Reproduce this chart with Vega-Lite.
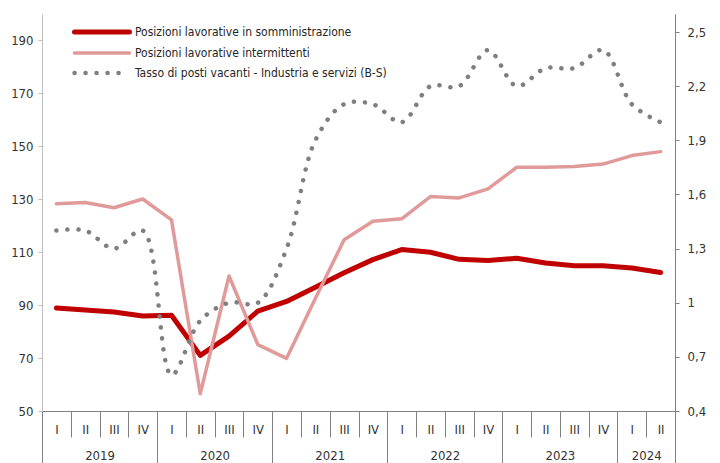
{
  "$schema": "https://vega.github.io/schema/vega-lite/v6.json",
  "width": 633,
  "height": 397,
  "autosize": "none",
  "padding": {"left": 42, "top": 14, "right": 45, "bottom": 52},
  "background": "white",
  "config": {
    "view": {"stroke": null},
    "axis": {"grid": false, "labelFont": "'Liberation Sans Narrow', 'Arial Narrow', 'DejaVu Sans Condensed', 'Liberation Sans', sans-serif", "labelFontSize": 13, "labelColor": "#333333", "labelOverlap": false, "labelFlush": false, "title": null}
  },
  "data": {
    "values": [
      {"i": 0, "anno": 2019, "trim": "I", "somm": 88.9, "interm": 128.3, "vac": 1.4},
      {"i": 1, "anno": 2019, "trim": "II", "somm": 88.2, "interm": 128.8, "vac": 1.4},
      {"i": 2, "anno": 2019, "trim": "III", "somm": 87.4, "interm": 126.8, "vac": 1.3},
      {"i": 3, "anno": 2019, "trim": "IV", "somm": 85.9, "interm": 130.1, "vac": 1.4},
      {"i": 4, "anno": 2020, "trim": "I", "somm": 86.2, "interm": 122.2, "vac": 0.6},
      {"i": 5, "anno": 2020, "trim": "II", "somm": 71.0, "interm": 56.5, "vac": 0.9},
      {"i": 6, "anno": 2020, "trim": "III", "somm": 78.3, "interm": 101.0, "vac": 1.0},
      {"i": 7, "anno": 2020, "trim": "IV", "somm": 87.7, "interm": 75.1, "vac": 1.0},
      {"i": 8, "anno": 2021, "trim": "I", "somm": 91.4, "interm": 69.9, "vac": 1.3},
      {"i": 9, "anno": 2021, "trim": "II", "somm": 96.8, "interm": 92.5, "vac": 1.9},
      {"i": 10, "anno": 2021, "trim": "III", "somm": 102.2, "interm": 114.7, "vac": 2.1},
      {"i": 11, "anno": 2021, "trim": "IV", "somm": 107.2, "interm": 121.7, "vac": 2.1},
      {"i": 12, "anno": 2022, "trim": "I", "somm": 111.0, "interm": 122.6, "vac": 2.0},
      {"i": 13, "anno": 2022, "trim": "II", "somm": 110.0, "interm": 131.0, "vac": 2.2},
      {"i": 14, "anno": 2022, "trim": "III", "somm": 107.3, "interm": 130.5, "vac": 2.2},
      {"i": 15, "anno": 2022, "trim": "IV", "somm": 106.9, "interm": 133.9, "vac": 2.4},
      {"i": 16, "anno": 2023, "trim": "I", "somm": 107.7, "interm": 142.1, "vac": 2.2},
      {"i": 17, "anno": 2023, "trim": "II", "somm": 105.9, "interm": 142.1, "vac": 2.3},
      {"i": 18, "anno": 2023, "trim": "III", "somm": 104.9, "interm": 142.4, "vac": 2.3},
      {"i": 19, "anno": 2023, "trim": "IV", "somm": 104.9, "interm": 143.3, "vac": 2.4},
      {"i": 20, "anno": 2024, "trim": "I", "somm": 104.0, "interm": 146.5, "vac": 2.1},
      {"i": 21, "anno": 2024, "trim": "II", "somm": 102.3, "interm": 148.0, "vac": 2.0}
    ]
  },
  "layer": [
    {
      "transform": [{"fold": ["somm", "interm"], "as": ["serie", "valore"]}],
      "mark": {"type": "line", "strokeCap": "round", "strokeJoin": "round"},
      "encoding": {
        "x": {
          "field": "i", "type": "quantitative",
          "scale": {"domain": [-0.5, 21.5], "nice": false, "zero": false},
          "axis": {
            "orient": "bottom",
            "values": [0,1,2,3,4,5,6,7,8,9,10,11,12,13,14,15,16,17,18,19,20,21],
            "ticks": false,
            "domainColor": "#808080",
            "labelExpr": "['I','II','III','IV'][datum.value % 4]",
            "labelBaseline": "middle",
            "labelPadding": 18
          }
        },
        "y": {
          "field": "valore", "type": "quantitative",
          "scale": {"domain": [50, 200], "nice": false, "zero": false},
          "axis": {
            "orient": "left",
            "values": [50, 70, 90, 110, 130, 150, 170, 190],
            "tickSize": 4, "labelPadding": 5,
            "domainColor": "#BFBFBF", "tickColor": "#BFBFBF"
          }
        },
        "color": {
          "field": "serie", "type": "nominal",
          "scale": {"domain": ["somm", "interm", "vac"], "range": ["#C00000", "#E09A9A", "#7F7F7F"]},
          "legend": {
            "orient": "none", "legendX": 54, "legendY": 12, "padding": 0, "title": null,
            "symbolType": "M-4,0H4", "symbolSize": 189, "rowPadding": 4, "labelOffset": 27,
            "labelFont": "'Liberation Sans Narrow', 'Arial Narrow', 'DejaVu Sans Condensed', 'Liberation Sans', sans-serif", "labelFontSize": 12, "labelColor": "#262626",
            "labelLimit": 400,
            "labelExpr": "datum.label == 'somm' ? 'Posizioni lavorative in somministrazione' : datum.label == 'interm' ? 'Posizioni lavorative intermittenti' : 'Tasso di posti vacanti - Industria e servizi (B-S)'",
            "encode": {
              "symbols": {
                "update": {
                  "strokeWidth": {"signal": "datum.value == 'somm' ? 5 : datum.value == 'interm' ? 3.5 : 4.5"},
                  "strokeDash": {"signal": "datum.value == 'vac' ? [0.1, 10.9] : [1, 0]"},
                  "strokeCap": {"value": "round"}
                }
              }
            }
          }
        },
        "strokeWidth": {"condition": {"test": "datum.serie == 'somm'", "value": 5}, "value": 3.5}
      }
    },
    {
      "transform": [{"fold": ["vac"], "as": ["serie", "valore"]}],
      "mark": {"type": "line", "interpolate": "catmull-rom", "strokeCap": "round", "strokeWidth": 4.5, "strokeDash": [0.1, 10.9]},
      "encoding": {
        "x": {
          "field": "i", "type": "quantitative",
          "axis": {
            "orient": "bottom",
            "values": [-0.5,0.5,1.5,2.5,3.5,4.5,5.5,6.5,7.5,8.5,9.5,10.5,11.5,12.5,13.5,14.5,15.5,16.5,17.5,18.5,19.5,20.5,21.5],
            "labels": false, "domain": false, "tickSize": 26, "tickColor": "#808080"
          }
        },
        "y": {
          "field": "valore", "type": "quantitative",
          "scale": {"domain": [0.4, 2.6], "nice": false, "zero": false},
          "axis": {
            "orient": "right",
            "values": [0.4, 0.7, 1, 1.3, 1.6, 1.9, 2.2, 2.5],
            "labelExpr": "replace(toString(datum.value), '.', ',')",
            "tickSize": 4, "labelPadding": 8,
            "domainColor": "#808080", "tickColor": "#808080"
          }
        },
        "color": {"field": "serie", "type": "nominal"}
      }
    },
    {
      "mark": {"type": "point", "opacity": 0},
      "encoding": {
        "x": {
          "field": "i", "type": "quantitative",
          "axis": {
            "orient": "bottom",
            "values": [-0.5, 3.5, 7.5, 11.5, 15.5, 19.5, 21.5],
            "labels": false, "domain": false, "tickSize": 52, "tickColor": "#808080"
          }
        }
      }
    },
    {
      "mark": {"type": "point", "opacity": 0},
      "encoding": {
        "x": {
          "field": "i", "type": "quantitative",
          "axis": {
            "orient": "bottom",
            "values": [1.5, 5.5, 9.5, 13.5, 17.5, 20.5],
            "ticks": false, "domain": false,
            "labelExpr": "'' + (2019 + floor(datum.value / 4))",
            "labelBaseline": "middle",
            "labelPadding": 44
          }
        }
      }
    }
  ],
  "resolve": {"scale": {"y": "independent"}, "axis": {"x": "independent", "y": "independent"}}
}
